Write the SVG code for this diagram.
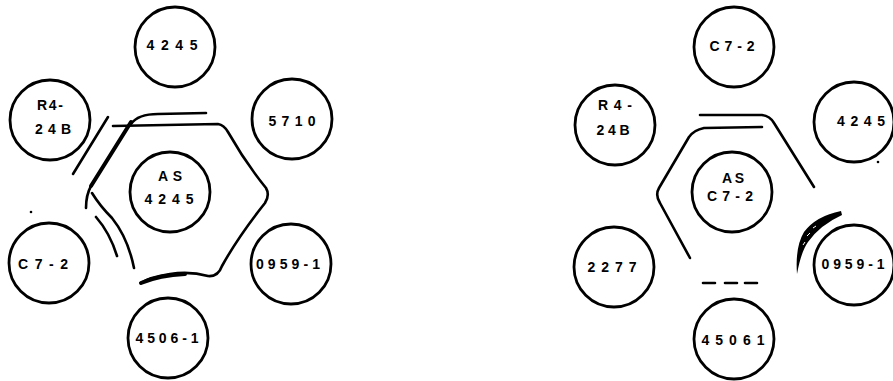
<svg xmlns="http://www.w3.org/2000/svg" width="893" height="381" viewBox="0 0 893 381">
<style>
.n circle{fill:none;stroke:#000;stroke-width:2.8}
.n text{font-family:"Liberation Sans",Arial,sans-serif;font-weight:bold;font-size:14px;fill:#000;text-anchor:middle}
.s{fill:none;stroke:#000;stroke-width:2.6;stroke-linecap:round;stroke-linejoin:round}
.t{stroke-width:4}
</style>
<rect width="893" height="381" fill="#fff"/>
<g id="left-outline">
<path class="s" d="M113,126 L218,124 Q224,125 228,132 Q245,162 266,188 Q270,195 265,203 Q238,237 222,266 Q218,277 208,276 Q190,271 170,274 Q150,277 141,283"/>
<path class="s t" d="M141,283 Q160,275 185,274"/>
<path class="s" d="M131,124 Q138,114 158,114 L206,113"/>
<path class="s t" d="M131,122 L91,186"/>
<path class="s" d="M91,186 Q86,195 86,208"/>
<path class="s" d="M92,193 Q100,206 112,218 Q128,238 134,268"/>
<path class="s" d="M108,117 L73,174"/>
<path class="s" d="M96,217 Q110,233 117,256"/>
<circle cx="31" cy="212" r="1.3" fill="#000"/>
</g>
<g id="right-outline">
<path class="s" d="M700,115 L762,115 Q770,116 774,123 L814,187"/>
<path class="s" d="M762,127 L704,128 Q694,130 689,137 L659,188 Q655,195 660,203 L690,258"/>
<path class="s" d="M703,283 L715,283 M725,283 L737,283 M745,283 L757,283"/>
<path d="M841,211 Q816,216 804,232 Q795,247 797,274 Q801,252 808,242 Q820,225 842,215 Z" fill="#000"/>
<path d="M813,228 L816,226 M807,236 L810,233 M803,245 L805,242" stroke="#fff" stroke-width="1" fill="none"/>
<circle cx="878" cy="162" r="1.3" fill="#000"/>
</g>
<g id="L-4245" class="n"><circle cx="175" cy="47" r="40"/><text x="172" y="50" textLength="51" lengthAdjust="spacing">4245</text></g>
<g id="L-R4-24B" class="n"><circle cx="50" cy="120" r="40"/><text x="50" y="110" textLength="26" lengthAdjust="spacing">R4-</text><text x="53" y="134" textLength="36" lengthAdjust="spacing">24B</text></g>
<g id="L-5710" class="n"><circle cx="292" cy="119" r="40"/><text x="292" y="126" textLength="47" lengthAdjust="spacing">5710</text></g>
<g id="L-AS4245" class="n"><circle cx="170" cy="192" r="40"/><text x="170" y="181" textLength="24" lengthAdjust="spacing">AS</text><text x="169" y="204" textLength="49" lengthAdjust="spacing">4245</text></g>
<g id="L-C7-2" class="n"><circle cx="49" cy="263" r="40"/><text x="43" y="269" textLength="50" lengthAdjust="spacing">C7-2</text></g>
<g id="L-0959-1" class="n"><circle cx="291" cy="264" r="40"/><text x="288" y="269" textLength="64" lengthAdjust="spacing">0959-1</text></g>
<g id="L-4506-1" class="n"><circle cx="168" cy="338" r="40"/><text x="167" y="343" textLength="63" lengthAdjust="spacing">4506-1</text></g>
<g id="R-C7-2" class="n"><circle cx="734" cy="47" r="40"/><text x="732" y="51" textLength="45" lengthAdjust="spacing">C7-2</text></g>
<g id="R-R4-24B" class="n"><circle cx="615" cy="125" r="40"/><text x="615" y="110" textLength="34" lengthAdjust="spacing">R4-</text><text x="613" y="135" textLength="33" lengthAdjust="spacing">24B</text></g>
<g id="R-4245" class="n"><circle cx="854" cy="122" r="40"/><text x="861" y="126" textLength="48" lengthAdjust="spacing">4245</text></g>
<g id="R-ASC7-2" class="n"><circle cx="732" cy="192" r="40"/><text x="733" y="183" textLength="22" lengthAdjust="spacing">AS</text><text x="730" y="201" textLength="46" lengthAdjust="spacing">C7-2</text></g>
<g id="R-2277" class="n"><circle cx="614" cy="267" r="40"/><text x="612" y="272" textLength="49" lengthAdjust="spacing">2277</text></g>
<g id="R-0959-1" class="n"><circle cx="854" cy="265" r="40"/><text x="853" y="269" textLength="63" lengthAdjust="spacing">0959-1</text></g>
<g id="R-45061" class="n"><circle cx="734" cy="339" r="40"/><text x="733" y="345" textLength="63" lengthAdjust="spacing">45061</text></g>
</svg>
